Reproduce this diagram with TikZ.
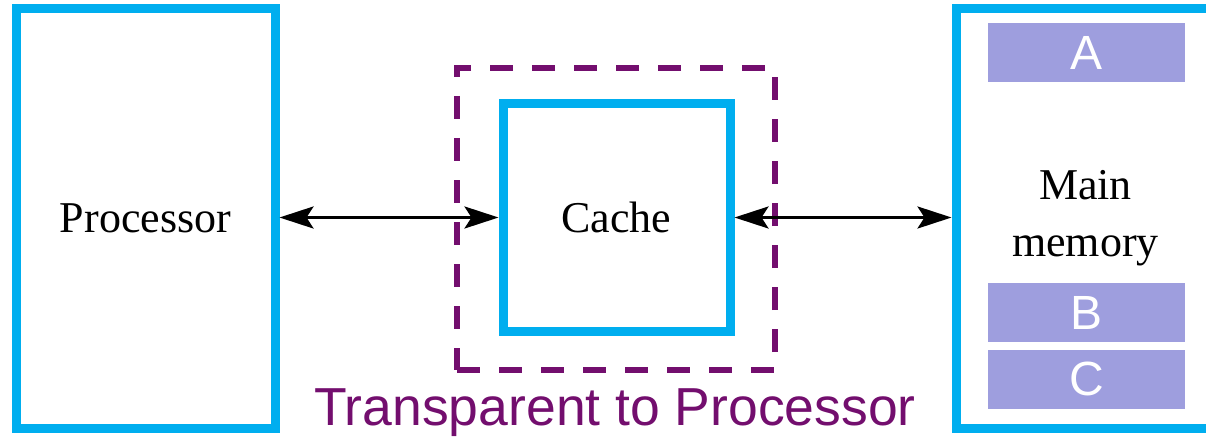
\documentclass[tikz,border=0pt]{standalone}
\usepackage{fontspec}
\setmainfont{Liberation Serif}
\setsansfont{Liberation Sans}
\usetikzlibrary{arrows.meta}
\definecolor{boxblue}{RGB}{0,174,239}
\definecolor{hidepurple}{RGB}{115,14,110}
\definecolor{blocklav}{RGB}{158,158,222}
\tikzset{hidebox/.style={draw=hidepurple, line width=6pt, dash pattern=on 23pt off 19pt, minimum width=318pt, minimum height=302pt}}

\begin{document}
\begin{tikzpicture}[x=1pt,y=1pt]
\tikzstyle{unit} = [rectangle, draw=boxblue, line width=9pt, font=\fontsize{44}{57}\selectfont, align=center]
\tikzstyle{block} = [rectangle, fill=blocklav, minimum width=197pt, minimum height=59pt, inner sep=0pt, text=white, font=\sffamily\fontsize{48}{48}\selectfont]
\tikzstyle{arrow} = [line width=3.2pt, arrows={Stealth[length=34pt,width=22pt,inset=7pt]-Stealth[length=34pt,width=22pt,inset=7pt]}]

\clip (0,0) rectangle (1206,437);

\node (proc) [unit, minimum width=259pt, minimum height=419pt] at (145.5,218.5) {Processor};
\node (cache) [unit, minimum width=227pt, minimum height=228pt] at (616.5,219.5) {Cache};
\node (hide) [hidebox] at (616,218) {};
\node (mem) [unit, minimum width=259pt, minimum height=419pt] at (1085.5,218.5) {Main\\memory};

\node (blkA) [block] at (1086.5,384.5) {A};
\node (blkB) [block] at (1086.5,124.5) {B};
\node (blkC) [block] at (1086.5,58) {C};

\node (note) [anchor=base, text=hidepurple, font=\sffamily\fontsize{53.5}{53.5}\selectfont] at (615,12) {Transparent to Processor};

\draw [arrow] (cache.west -| proc.east) -- (cache.west);
\draw [arrow] (cache.east) -- (cache.east -| mem.west);

\end{tikzpicture}
\end{document}
